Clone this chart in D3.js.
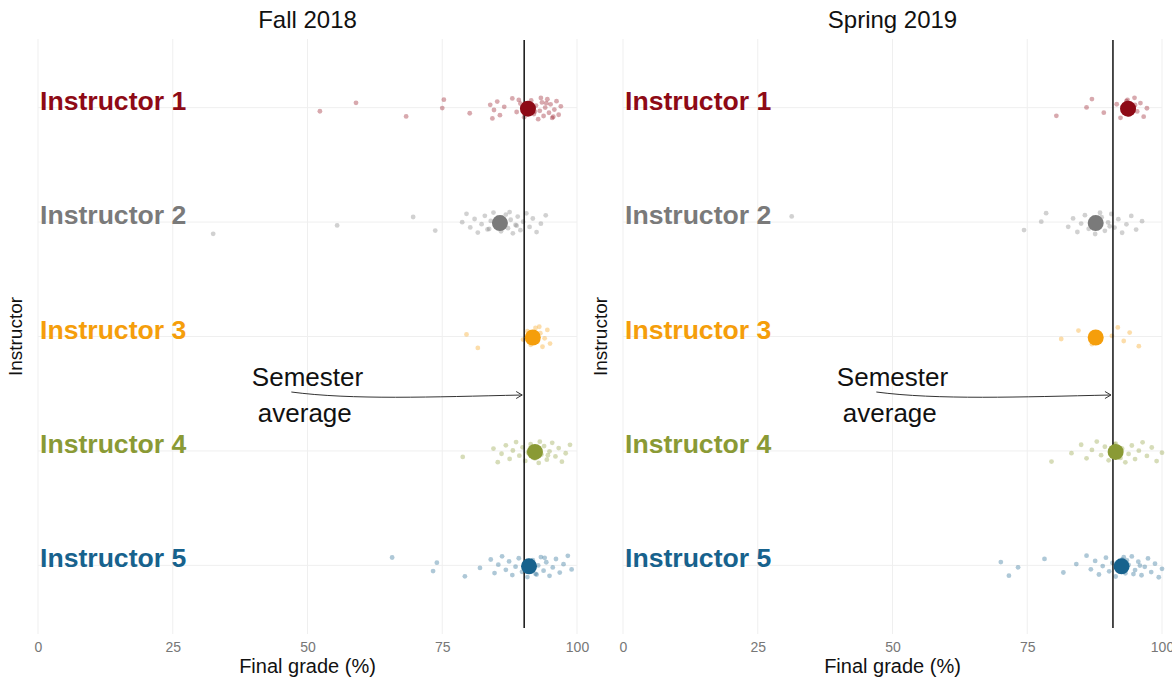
<!DOCTYPE html>
<html>
<head>
<meta charset="utf-8">
<script src="https://cdn.jsdelivr.net/npm/d3@7"></script>
<style>
  body { margin: 0; background: #fff; }
  text { font-family: "Liberation Sans", Arial, sans-serif; }
</style>
</head>
<body>
<div id="chart"></div>
<script>
// 数据
var instructors = ['Instructor 1', 'Instructor 2', 'Instructor 3', 'Instructor 4', 'Instructor 5'];
var semesters = ['Fall 2018', 'Spring 2019'];
var semesterAvg = [90.2, 90.9];

var fallAvg = [90.9, 85.7, 91.8, 92.2, 91.1];
var springAvg = [93.7, 87.7, 87.7, 91.4, 92.5];

var fall1 = [52.3, 59, 68.3, 75, 75.3, 80.1, 83.9, 84.3, 84.6, 85.2, 85.7, 86.5, 88, 88.8, 89.5, 90.2, 91, 91.5, 92, 92.4, 92.8, 93.1, 93.5, 93.8, 94.1, 94.5, 94.8, 95.1, 95.4, 95.8, 96.2, 96.6, 97, 93.3, 92.2, 94.3, 95.6, 90.7, 89.2];
var fall2 = [32.5, 55.5, 69.6, 73.7, 78.7, 79.5, 80.2, 81, 81.6, 82.3, 82.9, 83.4, 84, 84.5, 85, 85.4, 85.9, 86.3, 86.8, 87.2, 87.7, 88.1, 88.6, 89, 89.5, 90, 90.6, 91.2, 91.8, 92.5, 93.3, 94.2, 83.7, 85.7, 87.5, 88.8, 86];
var fall3 = [79.5, 81.6, 90, 90.8, 91.4, 91.9, 92.3, 92.7, 93.2, 93.6, 94, 94.5, 95, 92, 93];
var fall4 = [78.8, 84.5, 85.3, 86, 86.8, 87.5, 88.1, 88.7, 89.3, 89.9, 90.4, 90.9, 91.4, 91.9, 92.4, 92.9, 93.4, 93.9, 94.4, 94.9, 95.4, 96, 96.6, 97.2, 97.9, 98.7, 92.2, 91.6, 93.1, 94.6];
var fall5 = [65.7, 73.3, 74, 79.2, 82, 84, 84.7, 85.4, 86.1, 86.8, 87.4, 88, 88.6, 89.2, 89.8, 90.3, 90.8, 91.3, 91.8, 92.3, 92.8, 93.3, 93.8, 94.3, 94.9, 95.5, 96.1, 96.8, 97.5, 98.3, 99, 91, 92.5, 90.5, 94];

var spring1 = [80.4, 86, 87, 89.2, 91.6, 92.3, 92.9, 93.4, 93.9, 94.4, 94.9, 95.4, 96, 96.6, 97.2, 93.6, 94.2, 95];
var spring2 = [31.3, 74.4, 77.6, 78.5, 82.6, 83.5, 84.3, 85, 85.7, 86.4, 87, 87.6, 88.2, 88.8, 89.4, 90, 90.6, 91.2, 91.9, 92.6, 93.4, 94.3, 95.2, 96.3, 88.5, 90.3, 87.3];
var spring3 = [81.3, 84.5, 87, 90.7, 91.8, 92.9, 94, 95.7];
var spring4 = [79.5, 83.2, 85, 86, 87, 87.9, 88.7, 89.4, 90.1, 90.8, 91.4, 92, 92.6, 93.2, 93.8, 94.4, 95, 95.7, 96.4, 97.2, 98.1, 99, 100, 91.2, 92.3];
var spring5 = [70.1, 71.6, 73.3, 78.2, 81.7, 84.1, 86, 86.8, 87.6, 88.3, 89, 89.6, 90.2, 90.8, 91.4, 92, 92.6, 93.2, 93.8, 94.4, 95, 95.6, 96.2, 96.8, 97.4, 98, 98.7, 99.4, 100, 93.5, 94.7, 95.9, 92.9];

var xTicks = [0, 25, 50, 75, 100];
var colors = ['#8e0a16', '#7a7a7a', '#f59e0b', '#8a9a35', '#17628d'];

var points = [[fall1, fall2, fall3, fall4, fall5], [spring1, spring2, spring3, spring4, spring5]];
var avgs = [fallAvg, springAvg];

(function () {
  // 画布
  var width = 1172, height = 681;
  var panelLeft = [38, 623], panelWidth = 539;
  var plotTop = 39, plotBottom = 634;

  var svg = d3.select('#chart').append('svg')
    .attr('width', width)
    .attr('height', height);

  var y = d3.scalePoint()
    .domain(instructors)
    .range([plotTop, plotBottom])
    .padding(0.6);

  // 固定的抖动偏移 (按序号, 不用随机数)
  function jitter(k, i, s) {
    var v = ((k + 1) * 0.6180339 + i * 0.37 + s * 0.21) % 1;
    return (v - 0.5) * 22;
  }

  semesters.forEach(function (sem, s) {
    var x = d3.scaleLinear()
      .domain([0, 100])
      .range([panelLeft[s], panelLeft[s] + panelWidth]);
    var g = svg.append('g');

    // 网格
    g.selectAll('.vgrid')
      .data(xTicks)
      .enter()
      .append('line')
      .attr('x1', function (d) { return x(d); })
      .attr('x2', function (d) { return x(d); })
      .attr('y1', plotTop)
      .attr('y2', plotBottom)
      .attr('stroke', '#efefef')
      .attr('stroke-width', 1);
    g.selectAll('.hgrid')
      .data(instructors)
      .enter()
      .append('line')
      .attr('x1', x(0))
      .attr('x2', x(100))
      .attr('y1', function (d) { return y(d); })
      .attr('y2', function (d) { return y(d); })
      .attr('stroke', '#efefef')
      .attr('stroke-width', 1);

    // 标题
    g.append('text')
      .attr('x', x(50))
      .attr('y', 28)
      .attr('text-anchor', 'middle')
      .attr('font-size', 24)
      .attr('fill', '#111')
      .text(sem);

    // 坐标轴
    var axis = d3.axisBottom(x).tickValues(xTicks).tickSize(0).tickPadding(0);
    var ax = g.append('g')
      .attr('transform', 'translate(0,' + 652 + ')')
      .call(axis);
    ax.select('.domain').remove();
    ax.selectAll('text')
      .attr('font-size', 14)
      .attr('fill', '#777')
      .attr('dy', 0)
      .style('font-family', '"Liberation Sans", Arial, sans-serif');

    g.append('text')
      .attr('x', x(50))
      .attr('y', 673)
      .attr('text-anchor', 'middle')
      .attr('font-size', 20)
      .attr('fill', '#111')
      .text('Final grade (%)');

    g.append('text')
      .attr('transform', 'translate(' + (panelLeft[s] - 16) + ',' + ((plotTop + plotBottom) / 2) + ') rotate(-90)')
      .attr('text-anchor', 'middle')
      .attr('font-size', 19)
      .attr('fill', '#111')
      .text('Instructor');

    // 小点 (抖动)
    instructors.forEach(function (name, i) {
      g.selectAll('.pt' + i)
        .data(points[s][i])
        .enter()
        .append('circle')
        .attr('cx', function (d) { return x(d); })
        .attr('cy', function (d, k) { return y(name) + 1 + jitter(k, i, s); })
        .attr('r', 2.4)
        .attr('fill', colors[i])
        .attr('fill-opacity', 0.35);
    });

    // 学期平均线
    g.append('line')
      .attr('x1', x(semesterAvg[s]))
      .attr('x2', x(semesterAvg[s]))
      .attr('y1', plotTop + 1)
      .attr('y2', plotBottom - 6)
      .attr('stroke', '#111')
      .attr('stroke-width', 1.5);

    // 平均点
    g.selectAll('.avg')
      .data(avgs[s])
      .enter()
      .append('circle')
      .attr('cx', function (d) { return x(d); })
      .attr('cy', function (d, i) { return y(instructors[i]) + 1; })
      .attr('r', 8)
      .attr('fill', function (d, i) { return colors[i]; });

    // 讲师标签
    g.selectAll('.lab')
      .data(instructors)
      .enter()
      .append('text')
      .attr('x', x(0) + 2)
      .attr('y', function (d) { return y(d) + 2; })
      .attr('font-size', 26.6)
      .attr('font-weight', 'bold')
      .attr('fill', function (d, i) { return colors[i]; })
      .text(function (d) { return d; });

    // 注释
    var ann = g.append('text')
      .attr('text-anchor', 'middle')
      .attr('font-size', 26)
      .attr('fill', '#111');
    ann.append('tspan').attr('x', x(50)).attr('y', 386).text('Semester');
    ann.append('tspan').attr('x', x(49.5)).attr('y', 422).text('average');

    var x0 = x(47), y0 = 392, x1 = x(semesterAvg[s]) - 2, y1 = 395;
    g.append('path')
      .attr('d', 'M' + x0 + ',' + y0 + ' C' + (x0 + 60) + ',' + (y0 + 8) + ' ' + (x1 - 90) + ',' + (y1 + 2) + ' ' + x1 + ',' + y1)
      .attr('fill', 'none')
      .attr('stroke', '#333')
      .attr('stroke-width', 1);
    g.append('path')
      .attr('d', 'M' + (x1 - 6) + ',' + (y1 - 3.5) + ' L' + x1 + ',' + y1 + ' L' + (x1 - 6) + ',' + (y1 + 3.5))
      .attr('fill', 'none')
      .attr('stroke', '#333')
      .attr('stroke-width', 1);
  });
})();
</script>
</body>
</html>
